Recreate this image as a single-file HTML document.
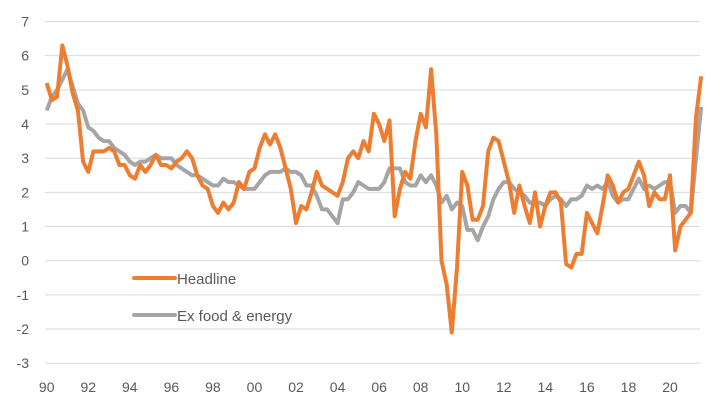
<!DOCTYPE html>
<html><head><meta charset="utf-8"><style>
body{margin:0;background:#fff;}
svg{display:block;font-family:"Liberation Sans",sans-serif;}
</style></head><body>
<svg id="chart" width="721" height="409"></svg>
<script>
const yTicks=[7,6,5,4,3,2,1,0,-1,-2,-3];
const xTickLabels=["90","92","94","96","98","00","02","04","06","08","10","12","14","16","18","20"];
const xTickYears=[1990,1992,1994,1996,1998,2000,2002,2004,2006,2008,2010,2012,2014,2016,2018,2020];
const startYear=1990;
const step=0.25;
const headline=[5.2,4.7,4.8,6.3, 5.7,4.9,4.4,2.9, 2.6,3.2,3.2,3.2, 3.3,3.2,2.8,2.8, 2.5,2.4,2.8,2.6, 2.8,3.1,2.8,2.8, 2.7,2.9,3.0,3.2, 3.0,2.5,2.2,2.1, 1.6,1.4,1.7,1.5, 1.7,2.3,2.1,2.6, 2.7,3.3,3.7,3.4, 3.7,3.3,2.7,2.1, 1.1,1.6,1.5,2.0, 2.6,2.2,2.1,2.0, 1.9,2.3,3.0,3.2, 3.0,3.5,3.2,4.3, 4.0,3.5,4.1,1.3, 2.1,2.6,2.4,3.5, 4.3,3.9,5.6,3.7, 0.0,-0.7,-2.1,-0.2, 2.6,2.2,1.2,1.2, 1.6,3.2,3.6,3.5, 2.9,2.3,1.4,2.2, 1.6,1.1,2.0,1.0, 1.6,2.0,2.0,1.7, -0.1,-0.2,0.2,0.2, 1.4,1.1,0.8,1.6, 2.5,2.2,1.7,2.0, 2.1,2.5,2.9,2.5, 1.6,2.0,1.8,1.8, 2.5,0.3,1.0,1.2, 1.4,4.2,5.4];
const core=[4.4,4.8,5.0,5.3, 5.6,5.1,4.6,4.4, 3.9,3.8,3.6,3.5, 3.5,3.3,3.2,3.1, 2.9,2.8,2.9,2.9, 3.0,3.1,3.0,3.0, 3.0,2.8,2.7,2.6, 2.5,2.5,2.4,2.3, 2.2,2.2,2.4,2.3, 2.3,2.2,2.1,2.1, 2.1,2.3,2.5,2.6, 2.6,2.6,2.7,2.6, 2.6,2.5,2.2,2.2, 1.9,1.5,1.5,1.3, 1.1,1.8,1.8,2.0, 2.3,2.2,2.1,2.1, 2.1,2.3,2.7,2.7, 2.7,2.3,2.2,2.2, 2.5,2.3,2.5,2.2, 1.7,1.9,1.5,1.7, 1.6,0.9,0.9,0.6, 1.0,1.3,1.8,2.1, 2.3,2.3,2.1,2.0, 1.9,1.7,1.7,1.7, 1.6,1.8,1.9,1.8, 1.6,1.8,1.8,1.9, 2.2,2.1,2.2,2.1, 2.3,1.9,1.7,1.8, 1.8,2.1,2.4,2.1, 2.2,2.1,2.2,2.3, 2.3,1.4,1.6,1.6, 1.4,3.0,4.5];

const NS="http://www.w3.org/2000/svg";
const svg=document.getElementById('chart');
const x0=45,x1=700;
const xScale=t=>46.7+(t-1990)*(670-46.7)/30;
const yScale=v=>260.7-v*34.17;
function el(tag,attrs){const e=document.createElementNS(NS,tag);for(const k in attrs)e.setAttribute(k,attrs[k]);svg.appendChild(e);return e;}

yTicks.forEach(v=>{
  const g=el('line',{x1:x0,x2:x1,y1:yScale(v),y2:yScale(v),stroke:'#d9d9d9','stroke-width':1});
  
  
  const t=el('text',{x:29,y:yScale(v)+5,'text-anchor':'end','font-size':14,fill:'#595959'});
  t.textContent=v;
  
  
});
xTickLabels.forEach((lab,i)=>{
  const t=el('text',{x:xScale(xTickYears[i]),y:392,'text-anchor':'middle','font-size':14,fill:'#595959'});
  t.textContent=lab;
  
  
});
function series(vals,color,name){
  const pts=vals.map((v,i)=>{
    let t=startYear+i*step;
    if(i===vals.length-1) t=2021.5;
    return xScale(t).toFixed(1)+','+yScale(v).toFixed(1);
  }).join(' ');
  const p=el('polyline',{points:pts,fill:'none',stroke:color,'stroke-width':4,'stroke-linejoin':'round'});
  
  
}
series(core,'#a5a5a5','core-line');
series(headline,'#ed7d31','headline-line');

const l1=el('line',{x1:134,x2:175,y1:278,y2:278,stroke:'#ed7d31','stroke-width':4,'stroke-linecap':'round'});


const t1=el('text',{x:177,y:284,'font-size':15,fill:'#595959'});t1.textContent='Headline';


const l2=el('line',{x1:134,x2:175,y1:315,y2:315,stroke:'#a5a5a5','stroke-width':4,'stroke-linecap':'round'});


const t2=el('text',{x:177,y:321,'font-size':15,fill:'#595959'});t2.textContent='Ex food & energy';


</script>
</body></html>
